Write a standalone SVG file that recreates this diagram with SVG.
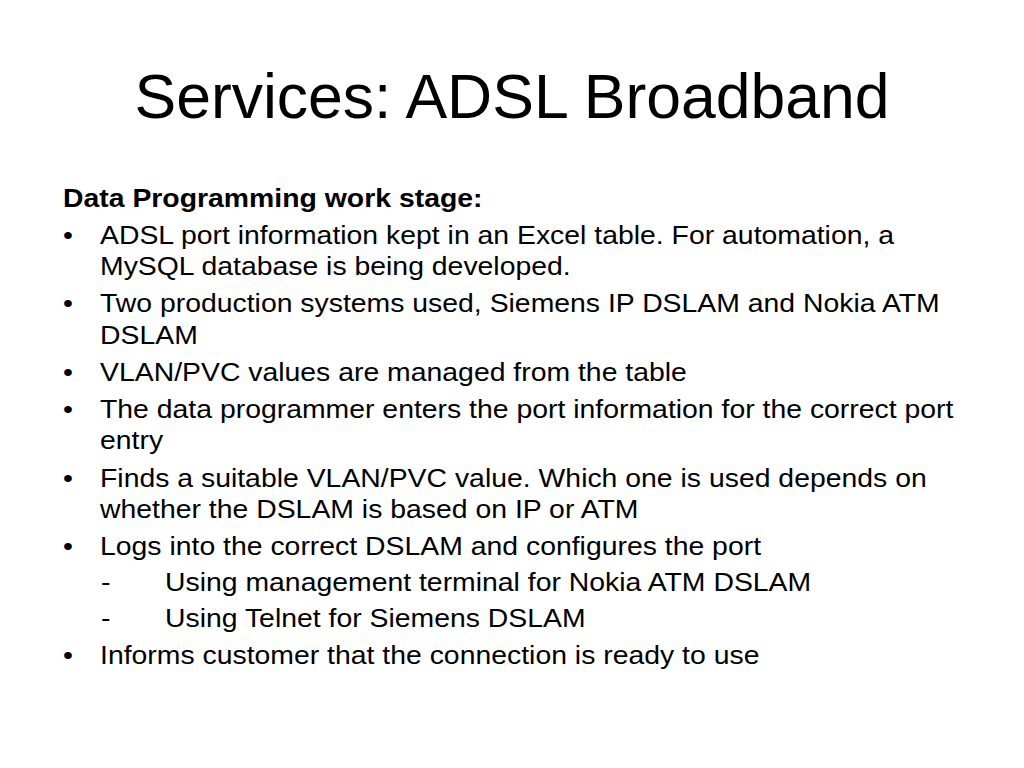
<svg xmlns="http://www.w3.org/2000/svg" width="1024" height="768" viewBox="0 0 1024 768">
<style>
.t{font-family:"Liberation Sans",Arial,sans-serif;font-size:28.4px;fill:#000}
.b{font-weight:bold}
.h{font-family:"Liberation Sans",Arial,sans-serif;font-size:62.5px;fill:#000}
</style>
<rect width="1024" height="768" fill="#fff"/>
<text class="h" x="512" y="118" text-anchor="middle">Services: ADSL Broadband</text>
<g class="t" transform="scale(1,0.9)">
<text class="b" x="63" y="230">Data Programming work stage:</text>
<text x="63" y="271.1">•</text><text x="100" y="271.1">ADSL port information kept in an Excel table. For automation, a</text>
<text x="100" y="305.6">MySQL database is being developed.</text>
<text x="63" y="346.7">•</text><text x="100" y="346.7">Two production systems used, Siemens IP DSLAM and Nokia ATM</text>
<text x="100" y="382.2">DSLAM</text>
<text x="63" y="423.3">•</text><text x="100" y="423.3">VLAN/PVC values are managed from the table</text>
<text x="63" y="464.4">•</text><text x="100" y="464.4">The data programmer enters the port information for the correct port</text>
<text x="100" y="498.9">entry</text>
<text x="63" y="541.1">•</text><text x="100" y="541.1">Finds a suitable VLAN/PVC value. Which one is used depends on</text>
<text x="100" y="575.6">whether the DSLAM is based on IP or ATM</text>
<text x="63" y="616.7">•</text><text x="100" y="616.7">Logs into the correct DSLAM and configures the port</text>
<text x="101" y="656.7">-</text><text x="165" y="656.7">Using management terminal for Nokia ATM DSLAM</text>
<text x="101" y="696.7">-</text><text x="165" y="696.7">Using Telnet for Siemens DSLAM</text>
<text x="63" y="737.8">•</text><text x="100" y="737.8">Informs customer that the connection is ready to use</text>
</g>
</svg>
